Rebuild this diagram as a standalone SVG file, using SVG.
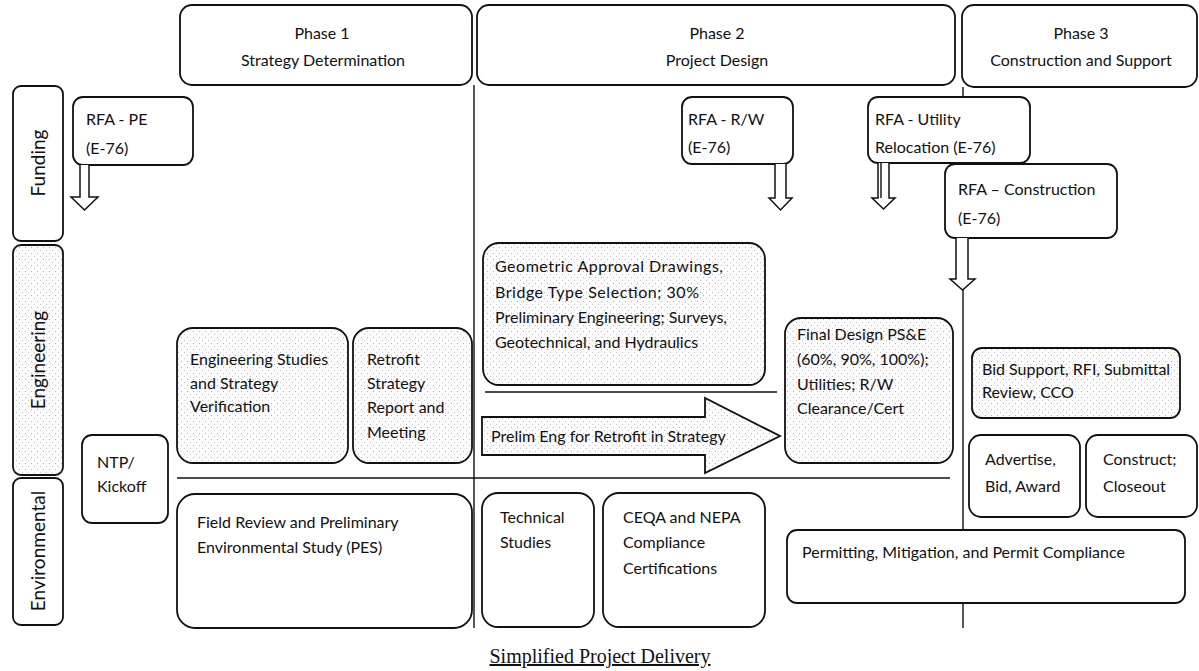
<svg xmlns="http://www.w3.org/2000/svg" width="1199" height="671" viewBox="0 0 1199 671">
<style>
  .box { fill: #ffffff; stroke: #111; stroke-width: 1.8; }
  .stip { fill: url(#dots); stroke: #111; stroke-width: 1.8; }
  .ln { stroke: #111; stroke-width: 1.4; fill: none; }
  .arr { fill: #ffffff; stroke: #111; stroke-width: 1.5; stroke-linejoin: miter; }
  text { font-family: "Lato", "Liberation Sans", sans-serif; font-size: 16px; fill: #111; }
  .c { text-anchor: middle; }
  .lab { font-size: 19px; text-anchor: middle; }
  .title { font-family: "Liberation Serif", serif; font-size: 20px; text-anchor: middle; text-decoration: underline; }
</style>
<defs>
  <pattern id="dots" width="6" height="6" patternUnits="userSpaceOnUse">
    <rect width="6" height="6" fill="#fbfbfb"/>
    <rect x="1" y="1" width="1" height="1" fill="#b5b5b5"/>
    <rect x="4" y="4" width="1" height="1" fill="#c8c8c8"/>
  </pattern>
</defs>
<rect width="1199" height="671" fill="#ffffff"/>

<g id="connectors">
  <line class="ln" x1="474" y1="85" x2="474" y2="628"/>
  <line class="ln" x1="963" y1="87" x2="963" y2="628"/>
  <line class="ln" x1="177" y1="478" x2="950" y2="478"/>
  <line class="ln" x1="485" y1="392" x2="777" y2="392"/>
</g>

<g id="phase1">
  <rect class="box" x="180" y="5" width="292" height="80" rx="12"/>
  <text class="c" x="322" y="39">Phase 1</text>
  <text class="c" x="323" y="66">Strategy Determination</text>
</g>
<g id="phase2">
  <rect class="box" x="477" y="5" width="478" height="80" rx="12"/>
  <text class="c" x="717" y="39">Phase 2</text>
  <text class="c" x="717" y="66">Project Design</text>
</g>
<g id="phase3">
  <rect class="box" x="962" y="5" width="235" height="82" rx="12"/>
  <text class="c" x="1081" y="39">Phase 3</text>
  <text class="c" x="1081" y="66">Construction and Support</text>
</g>

<g id="funding-label">
  <rect class="box" x="13" y="86" width="50" height="155" rx="8"/>
  <text class="lab" transform="translate(45,163) rotate(-90)">Funding</text>
</g>
<g id="engineering-label">
  <rect class="stip" x="13" y="245" width="50" height="230" rx="8"/>
  <text class="lab" transform="translate(45,360) rotate(-90)">Engineering</text>
</g>
<g id="environmental-label">
  <rect class="box" x="13" y="478" width="50" height="147" rx="8"/>
  <text class="lab" transform="translate(45,551) rotate(-90)">Environmental</text>
</g>

<g id="rfa-pe">
  <rect class="box" x="73" y="97" width="120" height="68" rx="10"/>
  <text x="86" y="125">RFA - PE</text>
  <text x="86" y="154">(E-76)</text>
  <path class="arr" d="M80,165 V197 H71 L84.5,210 L98,197 H89 V165"/>
</g>
<g id="rfa-rw">
  <rect class="box" x="682" y="97" width="111" height="67" rx="10"/>
  <text x="688" y="125">RFA - R/W</text>
  <text x="688" y="153">(E-76)</text>
  <path class="arr" d="M775,164 V198 H769 L780.5,210 L792,198 H786 V164"/>
</g>
<g id="rfa-utility">
  <rect class="box" x="868" y="97" width="162" height="66" rx="10"/>
  <text x="875" y="125">RFA - Utility</text>
  <text x="875" y="153">Relocation (E-76)</text>
  <path class="arr" d="M878,163 V198 H872 L883.5,209 L895,198 H889 V163"/>
  <line class="ln" x1="881" y1="163" x2="881" y2="198"/>
</g>
<g id="rfa-construction">
  <rect class="box" x="945" y="164" width="172" height="74" rx="10"/>
  <text x="958" y="195">RFA – Construction</text>
  <text x="958" y="224">(E-76)</text>
  <path class="arr" d="M956,238 V279 H950 L962.5,290 L975,279 H968 V238"/>
</g>

<g id="geometric">
  <rect class="stip" x="483" y="243" width="282" height="142" rx="16"/>
  <text x="495" y="272" textLength="228" lengthAdjust="spacing">Geometric Approval Drawings,</text>
  <text x="495" y="298" textLength="204" lengthAdjust="spacing">Bridge Type Selection; 30%</text>
  <text x="495" y="323">Preliminary Engineering; Surveys,</text>
  <text x="495" y="348">Geotechnical, and Hydraulics</text>
</g>
<g id="eng-studies">
  <rect class="stip" x="177" y="328" width="171" height="135" rx="16"/>
  <text x="190" y="365">Engineering Studies</text>
  <text x="190" y="389">and Strategy</text>
  <text x="190" y="412">Verification</text>
</g>
<g id="retrofit">
  <rect class="stip" x="353" y="328" width="119" height="135" rx="16"/>
  <text x="367" y="365">Retrofit</text>
  <text x="367" y="389">Strategy</text>
  <text x="367" y="413">Report and</text>
  <text x="367" y="438">Meeting</text>
</g>
<g id="ntp">
  <rect class="box" x="82" y="435" width="86" height="88" rx="10"/>
  <text x="97" y="468">NTP/</text>
  <text x="97" y="492">Kickoff</text>
</g>
<g id="prelim-arrow">
  <path class="stip" d="M482,417 H705 V398 L780,436 L705,473 V455 H482 Z"/>
  <text x="491" y="442">Prelim Eng for Retrofit in Strategy</text>
</g>
<g id="final-design">
  <rect class="stip" x="785" y="318" width="168" height="145" rx="16"/>
  <text x="797" y="340">Final Design PS&amp;E</text>
  <text x="797" y="365">(60%, 90%, 100%);</text>
  <text x="797" y="390">Utilities; R/W</text>
  <text x="797" y="414">Clearance/Cert</text>
</g>
<g id="bid-support">
  <rect class="stip" x="972" y="348" width="208" height="70" rx="10"/>
  <text x="982" y="375">Bid Support, RFI, Submittal</text>
  <text x="982" y="398">Review, CCO</text>
</g>
<g id="advertise">
  <rect class="box" x="969" y="435" width="111" height="82" rx="12"/>
  <text x="985" y="465">Advertise,</text>
  <text x="985" y="492">Bid, Award</text>
</g>
<g id="construct">
  <rect class="box" x="1086" y="435" width="111" height="82" rx="12"/>
  <text x="1103" y="465">Construct;</text>
  <text x="1103" y="492">Closeout</text>
</g>

<g id="field-review">
  <rect class="box" x="177" y="494" width="295" height="134" rx="18"/>
  <text x="197" y="528">Field Review and Preliminary</text>
  <text x="197" y="553">Environmental Study (PES)</text>
</g>
<g id="technical">
  <rect class="box" x="482" y="493" width="112" height="134" rx="16"/>
  <text x="500" y="523">Technical</text>
  <text x="500" y="548">Studies</text>
</g>
<g id="ceqa">
  <rect class="box" x="603" y="493" width="162" height="134" rx="16"/>
  <text x="623" y="523">CEQA and NEPA</text>
  <text x="623" y="548">Compliance</text>
  <text x="623" y="574">Certifications</text>
</g>
<g id="permitting">
  <rect class="box" x="787" y="530" width="398" height="73" rx="10"/>
  <text x="802" y="558">Permitting, Mitigation, and Permit Compliance</text>
</g>

<text class="title" x="600" y="663">Simplified Project Delivery</text>
</svg>
